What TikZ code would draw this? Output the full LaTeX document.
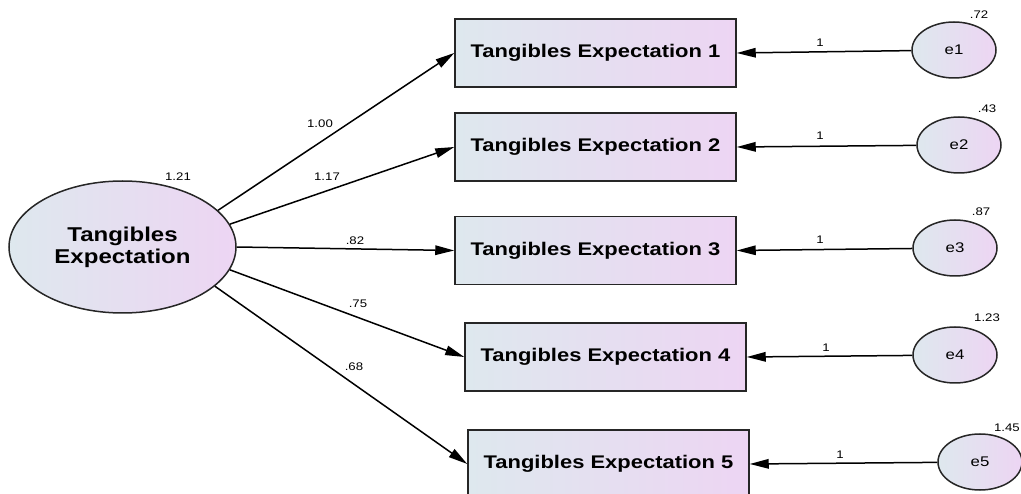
\documentclass[tikz,border=0pt]{standalone}
\usepackage{fontspec}
\setmainfont{Liberation Sans}
\newfontfamily\labfont[FakeStretch=1.2]{Liberation Sans}
\usetikzlibrary{shapes.geometric,arrows.meta}
\definecolor{gL}{RGB}{222,232,238}
\definecolor{gR}{RGB}{237,213,243}
\tikzset{
  obs/.style={draw=black!85,line width=1.5pt,rectangle,minimum width=281pt,minimum height=68pt,inner sep=0pt,
    left color=gL,right color=gR,font=\labfont\fontsize{18.3}{21}\selectfont\bfseries},
  lat/.style={draw=black!85,line width=1.5pt,ellipse,minimum width=227pt,minimum height=132pt,inner sep=0pt,
    left color=gL,right color=gR,align=center,font=\labfont\fontsize{20}{22}\selectfont\bfseries},
  err/.style={draw=black!85,line width=1.5pt,ellipse,minimum width=84pt,minimum height=56pt,inner sep=0pt,
    left color=gL,right color=gR,font=\labfont\fontsize{14}{16}\selectfont},
  arr/.style={line width=1.5pt,-{Triangle[length=19pt,width=9.5pt]}},
  num/.style={inner sep=0pt,font=\labfont\fontsize{11}{13}\selectfont},
}
\begin{document}
\begin{tikzpicture}[x=1pt,y=-1pt]
\useasboundingbox (0,0) rectangle (1021,494);
\clip (0,0) rectangle (1021,494);
\node[lat] (L) at (122.5,247) {Tangibles\\Expectation};
\node[obs] (b1) at (595.5,53) {Tangibles Expectation 1};
\node[obs] (b2) at (595.5,147) {Tangibles Expectation 2};
\node[obs] (b3) at (595.5,250.5) {Tangibles Expectation 3};
\node[obs] (b4) at (605.5,357) {Tangibles Expectation 4};
\node[obs] (b5) at (608.5,464) {Tangibles Expectation 5};
\node[err] (e1) at (954,50) {e1};
\node[err] (e2) at (959,145) {e2};
\node[err] (e3) at (955,248) {e3};
\node[err] (e4) at (955,355) {e4};
\node[err] (e5) at (980,462) {e5};
\draw[arr] (L.21) -- (b1.west);
\draw[arr] (L.12) -- (b2.west);
\draw[arr] (L.0) -- (b3.west);
\draw[arr] (L.-12) -- (b4.west);
\draw[arr] (L.-23) -- (b5.west);
\draw[arr] (e1) -- (b1.east);
\draw[arr] (e2) -- (b2.east);
\draw[arr] (e3) -- (b3.east);
\draw[arr] (e4) -- (b4.east);
\draw[arr] (e5) -- (b5.east);
\node[num] (v0) at (178,177) {1.21};
\node[num] (p1) at (320,124) {1.00};
\node[num] (p2) at (327,177) {1.17};
\node[num] (p3) at (355,241) {.82};
\node[num] (p4) at (358,304) {.75};
\node[num] (p5) at (354,367) {.68};
\node[num] (v1) at (979,15) {.72};
\node[num] (v2) at (987,109) {.43};
\node[num] (v3) at (981,212) {.87};
\node[num] (v4) at (987,318) {1.23};
\node[num,anchor=east] (v5) at (1020,428) {1.45};
\node[num] (o1) at (820,43) {1};
\node[num] (o2) at (820,136) {1};
\node[num] (o3) at (820,240) {1};
\node[num] (o4) at (826,348) {1};
\node[num] (o5) at (840,455) {1};
\end{tikzpicture}
\end{document}
